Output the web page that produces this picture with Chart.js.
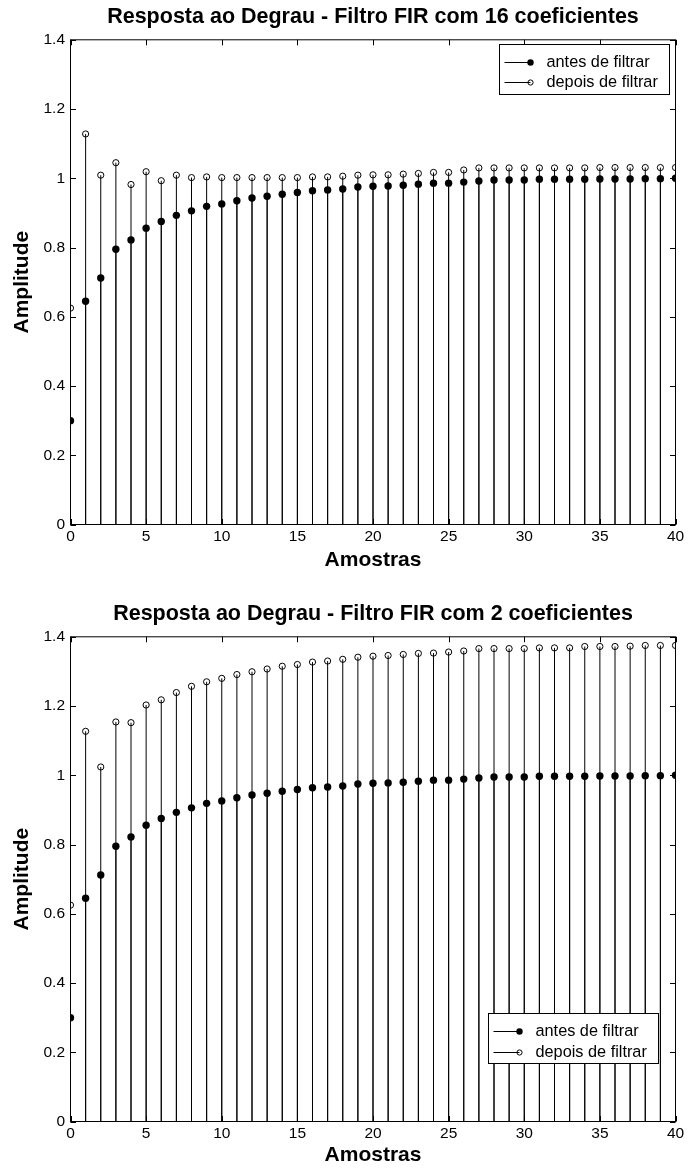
<!DOCTYPE html>
<html>
<head>
<meta charset="utf-8">
<title>Resposta ao Degrau - Filtros FIR</title>
<script src="https://cdn.jsdelivr.net/npm/chart.js@4.4.1/dist/chart.umd.min.js"></script>
<style>
  html, body { margin: 0; padding: 0; background: #fff; }
  #wrap { position: relative; width: 688px; height: 1169px; overflow: hidden; background: #fff; }
  canvas { position: absolute; left: 0; }
  #fir16 { top: 0; }
  #fir2 { top: 590px; }
</style>
</head>
<body>
<div id="wrap">
  <canvas id="fir16" width="688" height="590"></canvas>
  <canvas id="fir2" width="688" height="579"></canvas>
</div>
<script>
// Sample index n
const amostras = [0, 1, 2, 3, 4, 5, 6, 7, 8, 9, 10, 11, 12, 13, 14, 15, 16, 17, 18, 19, 20,
                  21, 22, 23, 24, 25, 26, 27, 28, 29, 30, 31, 32, 33, 34, 35, 36, 37, 38, 39, 40];

// Step response of the system before filtering
const antesFiltrar = [0.300, 0.645, 0.712, 0.795, 0.822, 0.856, 0.875, 0.893, 0.906, 0.919, 0.926,
                      0.935, 0.943, 0.948, 0.954, 0.959, 0.964, 0.966, 0.969, 0.975, 0.977,
                      0.978, 0.980, 0.983, 0.986, 0.986, 0.989, 0.992, 0.995, 0.995, 0.995,
                      0.997, 0.997, 0.997, 0.997, 0.998, 0.998, 0.998, 0.999, 0.999, 1.000];

// After the 16-coefficient FIR filter
const depoisFir16 = [0.625, 1.128, 1.009, 1.045, 0.982, 1.019, 0.993, 1.009, 1.002, 1.004, 1.002,
                     1.002, 1.002, 1.002, 1.002, 1.002, 1.004, 1.004, 1.006, 1.009, 1.010,
                     1.010, 1.012, 1.014, 1.017, 1.017, 1.024, 1.030, 1.030, 1.030, 1.030,
                     1.030, 1.030, 1.030, 1.030, 1.031, 1.031, 1.031, 1.031, 1.031, 1.031];

// After the 2-coefficient FIR filter
const depoisFir2 = [0.625, 1.127, 1.024, 1.154, 1.152, 1.203, 1.218, 1.239, 1.257, 1.270, 1.280,
                    1.291, 1.299, 1.307, 1.315, 1.320, 1.327, 1.330, 1.335, 1.341, 1.344,
                    1.346, 1.349, 1.352, 1.353, 1.356, 1.359, 1.366, 1.366, 1.366, 1.366,
                    1.368, 1.368, 1.368, 1.372, 1.372, 1.372, 1.373, 1.375, 1.375, 1.375];

const xTicks = [0, 5, 10, 15, 20, 25, 30, 35, 40];
const yTicks = [0, 0.2, 0.4, 0.6, 0.8, 1, 1.2, 1.4];

const FONT = '"Liberation Sans", Arial, Helvetica, sans-serif';

// Vertical stems from the zero line up to every marker
const stemPlugin = {
  id: 'stems',
  beforeDatasetsDraw(chart) {
    const ctx = chart.ctx;
    const y0 = chart.scales.y.getPixelForValue(0);
    ctx.save();
    ctx.strokeStyle = '#000';
    ctx.lineWidth = 1;
    chart.data.datasets.forEach((ds, i) => {
      chart.getDatasetMeta(i).data.forEach(pt => {
        ctx.beginPath();
        ctx.moveTo(pt.x, y0);
        ctx.lineTo(pt.x, pt.y);
        ctx.stroke();
      });
    });
    ctx.restore();
  }
};

// Box around the plot area with inward tick marks on all four sides
const framePlugin = {
  id: 'frame',
  afterDatasetsDraw(chart) {
    const { ctx, chartArea: a, scales: { x, y } } = chart;
    const L = 5.5;
    ctx.save();
    ctx.strokeStyle = '#000';
    ctx.lineWidth = 1;
    ctx.beginPath();
    x.ticks.forEach(t => {
      const px = Math.round(x.getPixelForValue(t.value)) + 0.5;
      ctx.moveTo(px, a.bottom); ctx.lineTo(px, a.bottom - L);
      ctx.moveTo(px, a.top); ctx.lineTo(px, a.top + L);
    });
    y.ticks.forEach(t => {
      const py = Math.round(y.getPixelForValue(t.value)) + 0.5;
      ctx.moveTo(a.left, py); ctx.lineTo(a.left + L, py);
      ctx.moveTo(a.right, py); ctx.lineTo(a.right - L, py);
    });
    ctx.stroke();
    ctx.strokeRect(a.left, a.top, a.right - a.left, a.bottom - a.top);
    ctx.restore();
  }
};

// Boxed legend placed inside the plot area
const boxLegendPlugin = {
  id: 'boxLegend',
  afterDraw(chart, args, opts) {
    const ctx = chart.ctx;
    const { left, top, width, height, rowGap, firstRow } = opts;
    ctx.save();
    ctx.fillStyle = '#fff';
    ctx.fillRect(left, top, width, height);
    ctx.strokeStyle = '#000';
    ctx.lineWidth = 1;
    ctx.strokeRect(left, top, width, height);
    ctx.font = '16.3px ' + FONT;
    ctx.textBaseline = 'middle';
    ctx.textAlign = 'left';
    chart.data.datasets.forEach((ds, i) => {
      const ry = Math.round(top + firstRow + i * rowGap) + 0.5;
      ctx.beginPath();
      ctx.moveTo(left + 5, ry);
      ctx.lineTo(left + 31, ry);
      ctx.strokeStyle = '#000';
      ctx.stroke();
      ctx.beginPath();
      ctx.arc(left + 31, ry, ds.legendRadius, 0, Math.PI * 2);
      if (ds.legendFilled) { ctx.fillStyle = '#000'; ctx.fill(); }
      else { ctx.stroke(); }
      ctx.fillStyle = '#000';
      ctx.fillText(ds.label, left + 47, ry + 0.5);
    });
    ctx.restore();
  }
};

function stemChart(canvasId, titleText, depois, cfg) {
  const antesPts = amostras.map((n, i) => ({ x: n, y: antesFiltrar[i] }));
  const depoisPts = amostras.map((n, i) => ({ x: n, y: depois[i] }));
  return new Chart(document.getElementById(canvasId), {
    type: 'scatter',
    data: {
      datasets: [
        {
          label: 'antes de filtrar',
          data: antesPts,
          pointRadius: 3.7,
          pointBackgroundColor: '#000',
          pointBorderColor: '#000',
          pointBorderWidth: 0,
          showLine: false,
          legendFilled: true,
          legendRadius: 3.2
        },
        {
          label: 'depois de filtrar',
          data: depoisPts,
          pointRadius: 3.1,
          pointBackgroundColor: 'rgba(0,0,0,0)',
          pointBorderColor: '#000',
          pointBorderWidth: 1,
          showLine: false,
          legendFilled: false,
          legendRadius: 2.6
        }
      ]
    },
    options: {
      responsive: false,
      animation: false,
      devicePixelRatio: 1,
      events: [],
      layout: { padding: { left: 0, right: 12.5, top: 0, bottom: 0 } },
      plugins: {
        legend: { display: false },
        tooltip: { enabled: false },
        title: {
          display: true,
          text: titleText,
          fullSize: false,
          color: '#000',
          font: { family: FONT, size: 21.5, weight: 'bold' },
          padding: { top: cfg.titleTop, bottom: 10 }
        },
        boxLegend: cfg.legend
      },
      scales: {
        x: {
          type: 'linear',
          min: 0,
          max: 40,
          afterBuildTicks(s) { s.ticks = xTicks.map(v => ({ value: v })); },
          afterFit(s) { s.height = cfg.xHeight; },
          grid: { display: false, drawTicks: false },
          border: { display: false },
          ticks: {
            padding: 3,
            color: '#000',
            autoSkip: false,
            maxRotation: 0,
            font: { family: FONT, size: 15.5 },
            callback: v => String(v)
          },
          title: {
            display: true,
            text: 'Amostras',
            color: '#000',
            font: { family: FONT, size: 21, weight: 'bold' },
            padding: { top: 0, bottom: cfg.xTitleBottom }
          }
        },
        y: {
          type: 'linear',
          min: 0,
          max: 1.4,
          afterBuildTicks(s) { s.ticks = yTicks.map(v => ({ value: v })); },
          afterFit(s) { s.width = 70.5; },
          grid: { display: false, drawTicks: false },
          border: { display: false },
          ticks: {
            padding: 5.5,
            color: '#000',
            autoSkip: false,
            font: { family: FONT, size: 15.5 },
            callback: v => String(v)
          },
          title: {
            display: true,
            text: 'Amplitude',
            color: '#000',
            font: { family: FONT, size: 21, weight: 'bold' },
            padding: { top: 9.8, bottom: 0 }
          }
        }
      }
    },
    plugins: [stemPlugin, framePlugin, boxLegendPlugin]
  });
}

stemChart('fir16', 'Resposta ao Degrau - Filtro FIR com 16 coeficientes', depoisFir16, {
  titleTop: 4,
  xHeight: 65.5,
  xTitleBottom: 16.9,
  legend: { left: 499.5, top: 44.5, width: 170, height: 50, firstRow: 17, rowGap: 20.5 }
});

stemChart('fir2', 'Resposta ao Degrau - Filtro FIR com 2 coeficientes', depoisFir2, {
  titleTop: 11,
  xHeight: 47.5,
  xTitleBottom: 1.4,
  legend: { left: 488.5, top: 423.5, width: 170, height: 50, firstRow: 17, rowGap: 21 }
});
</script>
</body>
</html>
